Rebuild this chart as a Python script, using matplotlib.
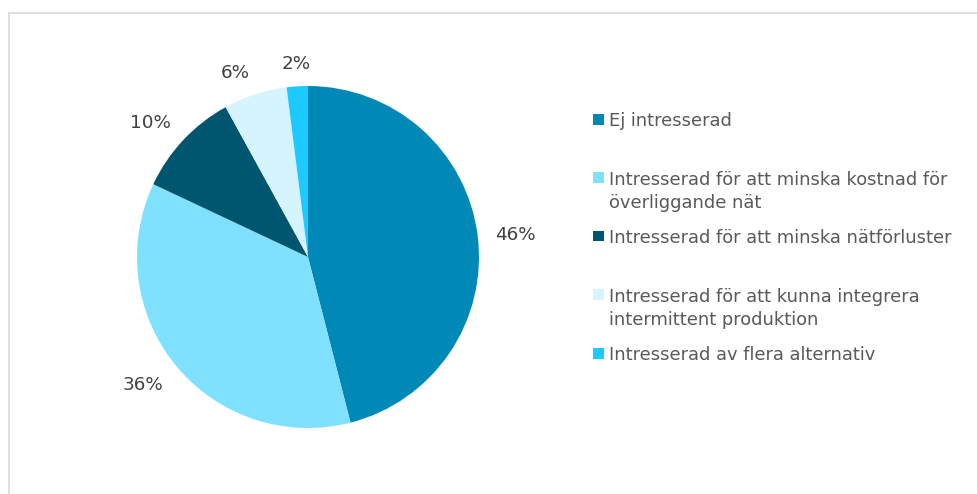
import numpy as np
import matplotlib.pyplot as plt
from matplotlib.lines import Line2D
from matplotlib.patches import Rectangle

# data
labels = [
    "Ej intresserad",
    "Intresserad för att minska kostnad för\növerliggande nät",
    "Intresserad för att minska nätförluster",
    "Intresserad för att kunna integrera\nintermittent produktion",
    "Intresserad av flera alternativ",
]
shares = [46, 36, 10, 6, 2]
colors = ["#0089B7", "#80E1FF", "#00566F", "#D5F4FE", "#1DCAFF"]

W, H = 977, 494
plt.rcParams["font.family"] = ["DejaVu Sans"]
FS_PCT = 13.2
FS_LEG = 12.85

fig = plt.figure(figsize=(W / 100, H / 100), dpi=100)

# pie: centre (308, 257) px, radius 171 px
cx, cy, r = 308, 257, 171
ax = fig.add_axes([(cx - r) / W, (H - cy - r) / H, 2 * r / W, 2 * r / H])
wedges, _ = ax.pie(
    shares,
    colors=colors,
    startangle=90,
    counterclock=False,
    wedgeprops={"linewidth": 0},
)
ax.set_xlim(-1, 1)
ax.set_ylim(-1, 1)
ax.set_aspect("equal")
ax.axis("off")

# data labels outside the pie, pushed away from the edge like Excel does
cap_pt = 0.729 * FS_PCT
for w, v in zip(wedges, shares):
    ang = np.deg2rad((w.theta1 + w.theta2) / 2)
    c, s = np.cos(ang), np.sin(ang)
    ha = "center" if abs(c) < 0.2 else ("left" if c > 0 else "right")
    if s > 0.2:
        off = 0
    elif s < -0.2:
        off = -cap_pt
    else:
        off = -cap_pt / 2
    ax.annotate(f"{v}%", xy=(1.1 * c, 1.1 * s), xytext=(0, off),
                textcoords="offset points", ha=ha, va="baseline",
                fontsize=FS_PCT, color="#404040", annotation_clip=False)

# chart frame (cut off at right and bottom)
frame = "#D9D9D9"
fig.add_artist(Line2D([9 / W, 9 / W], [0, 1 - 13 / H], color=frame, lw=1.2, transform=fig.transFigure))
fig.add_artist(Line2D([9 / W, 1], [1 - 13 / H, 1 - 13 / H], color=frame, lw=1.2, transform=fig.transFigure))

# legend, drawn by hand so multi-line entries keep the marker on the first line
y0, step, line_h = 119.5, 58.5, 23.5
cap_px = 0.729 * FS_LEG * 100 / 72
for i, (lab, col) in enumerate(zip(labels, colors)):
    yy = y0 + i * step
    fig.add_artist(Rectangle((593 / W, 1 - (yy + 5) / H), 10.5 / W, 10.5 / H,
                             facecolor=col, edgecolor="none", transform=fig.transFigure))
    for j, line in enumerate(lab.split("\n")):
        base = yy + j * line_h + cap_px / 2
        fig.text(609 / W, 1 - base / H, line, fontsize=FS_LEG,
                 color="#595959", va="baseline", ha="left")

fig.savefig("out.png", dpi=100)
plt.close(fig)
